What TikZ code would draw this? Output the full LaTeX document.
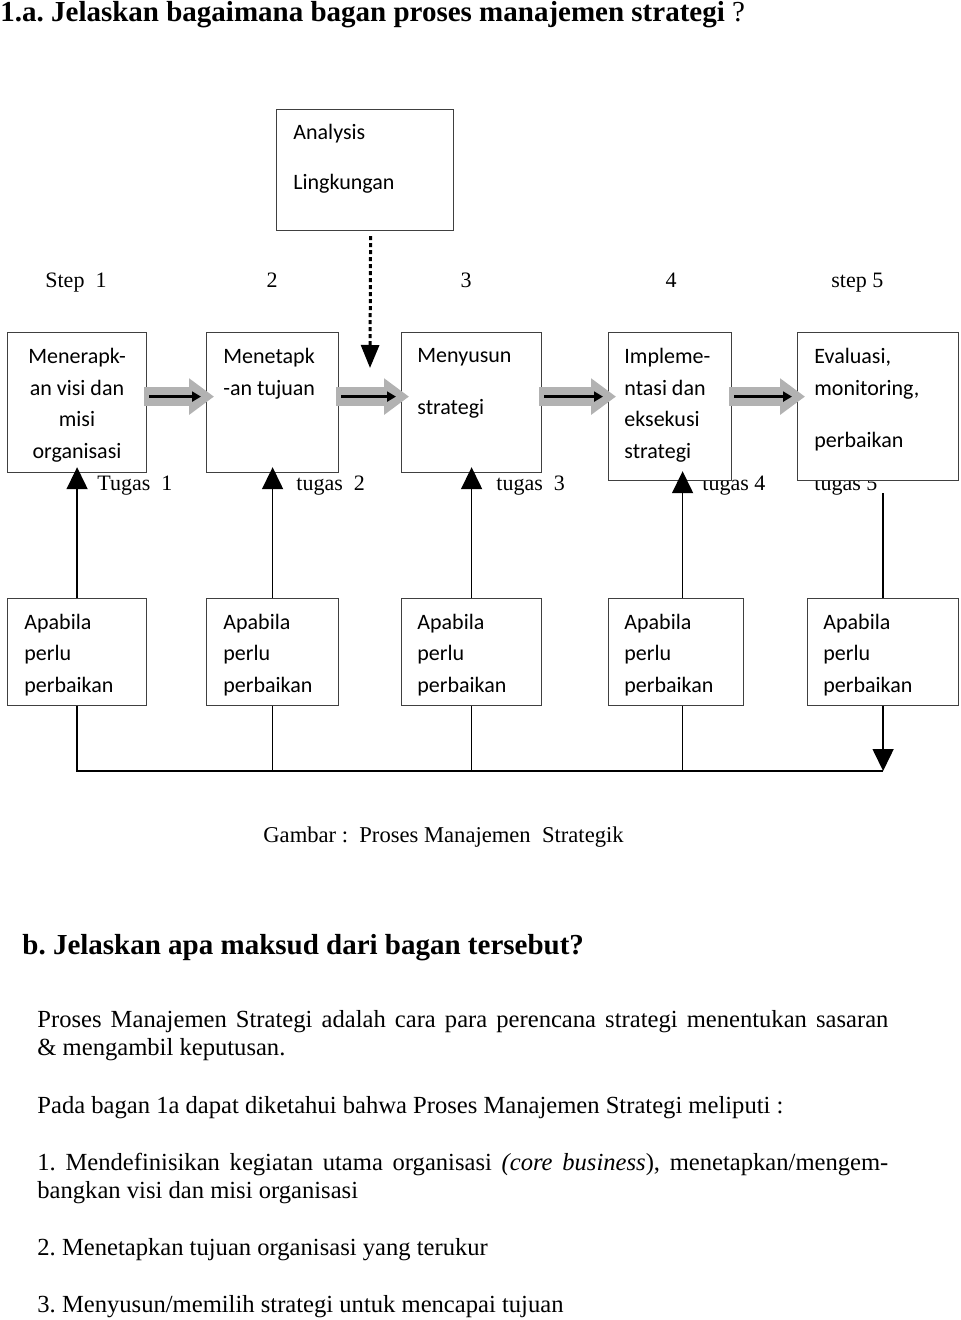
\documentclass[tikz,border=0pt]{standalone}
\usepackage{fontspec}
\setmainfont{Liberation Serif}
\newfontfamily\calibri{Carlito}
\usetikzlibrary{arrows.meta, calc, positioning}

\begin{document}
\frenchspacing
\begin{tikzpicture}[x=0.5pt, y=-0.5pt,
    box/.style={draw=black!75, line width=0.6pt, fill=white, inner sep=0pt, anchor=north west},
    btext/.style={font=\calibri\fontsize{11}{15.75}\selectfont, align=left, inner sep=0pt, anchor=base west},
    lbl/.style={font=\fontsize{11}{13}\selectfont, inner sep=0pt, anchor=base west},
    body/.style={font=\fontsize{12.3}{14.25}\selectfont, inner sep=0pt, anchor=base west,
      text width=425.5pt, align=justify},
    flow/.style={line width=0.8pt, -{Triangle[width=10.5pt,length=11pt]}},
    link/.style={line width=0.8pt},
    gbar/.style={line width=9.5pt, color=black!30, -{Triangle[width=17.5pt,length=12.5pt]},
      shorten <=-1.5pt, shorten >=-4pt},
    kbar/.style={line width=1.5pt, -{Triangle[width=5pt,length=4.5pt]},
      shorten <=1pt, shorten >=2.5pt}]
  \useasboundingbox (0,0) rectangle (960,1320);

  % question
  \node[lbl, font=\fontsize{14.5}{17}\selectfont] (title) at (0,22)
    {\textbf{1.a. Jelaskan bagaimana bagan proses manajemen strategi} ?};

  % lingkungan (box texts sit on the baseline of their last line)
  \node[box, minimum width=88.5pt, minimum height=60.5pt] (ana) at (276,109) {};
  \node[btext] (anat) at (293,190) {Analysis\\[9.25pt]Lingkungan};
  \coordinate (drop) at (370,368);

  % step numbers
  \node[lbl] (s1) at (45,288) {Step~~1};
  \node[lbl, anchor=base] (s2) at (272,288) {2};
  \node[lbl, anchor=base] (s3) at (466,288) {3};
  \node[lbl, anchor=base] (s4) at (671,288) {4};
  \node[lbl] (s5) at (831,288) {step 5};

  % tugas (under the boxes)
  \node[lbl] (t1) at (97,490) {Tugas~~1};
  \node[lbl] (t2) at (296,490) {tugas~~2};
  \node[lbl] (t3) at (496,490) {tugas~~3};
  \node[lbl] (t4) at (702,490) {tugas 4};
  \node[lbl] (t5) at (814,490) {tugas 5};

  % steps
  \node[box, minimum width=69.5pt, minimum height=70pt] (b1) at (7,332) {};
  \node[box, minimum width=66pt, minimum height=70pt] (b2) at (206,332) {};
  \node[box, minimum width=70pt, minimum height=70pt] (b3) at (401,332) {};
  \node[box, minimum width=61.5pt, minimum height=74pt] (b4) at (608,332) {};
  \node[box, minimum width=80.5pt, minimum height=74pt] (b5) at (797,332) {};
  \node[btext, align=center, anchor=base] (b1t) at (77,458)
    {Menerapk-\\an visi dan\\misi\\organisasi};
  \node[btext] (b2t) at (223,395) {Menetapk\\-an tujuan};
  \node[btext] (b3t) at (417,415) {Menyusun\\[10.25pt]strategi};
  \node[btext] (b4t) at (624,458) {Impleme-\\ntasi dan\\eksekusi\\strategi};
  \node[btext] (b5t) at (814,447) {Evaluasi,\\monitoring,\\[10.25pt]perbaikan};

  % perbaikan
  \node[box, minimum width=69.5pt, minimum height=53.5pt] (p1) at (7,598) {};
  \node[box, minimum width=66pt, minimum height=53.5pt] (p2) at (206,598) {};
  \node[box, minimum width=70pt, minimum height=53.5pt] (p3) at (401,598) {};
  \node[box, minimum width=67.5pt, minimum height=53.5pt] (p4) at (608,598) {};
  \node[box, minimum width=75.5pt, minimum height=53.5pt] (p5) at (807,598) {};
  \node[btext] (p1t) at (24,692) {Apabila\\perlu\\perbaikan};
  \node[btext] (p2t) at (223,692) {Apabila\\perlu\\perbaikan};
  \node[btext] (p3t) at (417,692) {Apabila\\perlu\\perbaikan};
  \node[btext] (p4t) at (624,692) {Apabila\\perlu\\perbaikan};
  \node[btext] (p5t) at (823,692) {Apabila\\perlu\\perbaikan};

  \coordinate (up4) at ($(p4.north)+(6.5,0)$);
  \coordinate (dn4) at ($(p4.south)+(6.5,0)$);
  \coordinate (base) at (0,771);

  % arrows
  \draw[line width=1.5pt, dash pattern=on 2pt off 1.5pt, shorten <=2.5pt,
    -{Triangle[width=9pt,length=11.5pt]}] ([xshift=2.75pt]ana.south) -- (drop);
  \path[gbar]
    ([yshift=3pt]b1.east) edge ([yshift=3pt]b2.west)
    ([yshift=3pt]b2.east) edge ([yshift=3pt]b3.west)
    ([yshift=3pt]b3.east) edge ([yshift=5pt]b4.west)
    ([yshift=5pt]b4.east) edge ([yshift=5pt]b5.west);
  \path[kbar]
    ([yshift=3pt]b1.east) edge ([yshift=3pt]b2.west)
    ([yshift=3pt]b2.east) edge ([yshift=3pt]b3.west)
    ([yshift=3pt]b3.east) edge ([yshift=5pt]b4.west)
    ([yshift=5pt]b4.east) edge ([yshift=5pt]b5.west);
  \path[flow]
    (p1.north) edge[shorten >=-3pt] (p1.north |- b1.south)
    (p2.north) edge[shorten >=-3pt] (p2.north |- b2.south)
    (p3.north) edge[shorten >=-3pt] (p3.north |- b3.south)
    (up4) edge[shorten >=-5pt] (up4 |- b4.south);
  \draw[link, shorten >=6pt] (p5.north) -- (p5.north |- b5.south);

  % feedback line
  \draw[link] (p1.south) |- (p5.south |- base);
  \path[link]
    (p2.south) edge (p2.south |- base)
    (p3.south) edge (p3.south |- base)
    (dn4) edge (dn4 |- base);
  \draw[flow] (p5.south) -- (p5.south |- base);

  \node[lbl, font=\fontsize{11.3}{13}\selectfont] (cap) at (263,842)
    {Gambar :~~Proses Manajemen~~Strategik};

  % answer (text width nodes sit on their first line)
  \node[lbl, font=\fontsize{14.5}{17}\selectfont\bfseries] (qb) at (22,954)
    {b. Jelaskan apa maksud dari bagan tersebut?};
  \node[body] (a1) at (37,1027) {Proses Manajemen Strategi adalah cara para perencana
    strategi menentukan sasaran\linebreak \& mengambil keputusan.};
  \node[body] (a2) at (37,1113)
    {Pada bagan 1a dapat diketahui bahwa Proses Manajemen Strategi meliputi :};
  \node[body] (a3) at (37,1170) {1. Mendefinisikan kegiatan utama organisasi
    \textit{(core business}), menetapkan/mengem-\linebreak bangkan visi dan misi organisasi};
  \node[body] (a4) at (37,1255) {2. Menetapkan tujuan organisasi yang terukur};
  \node[body] (a5) at (37,1312) {3. Menyusun/memilih strategi untuk mencapai tujuan};
\end{tikzpicture}
\end{document}
